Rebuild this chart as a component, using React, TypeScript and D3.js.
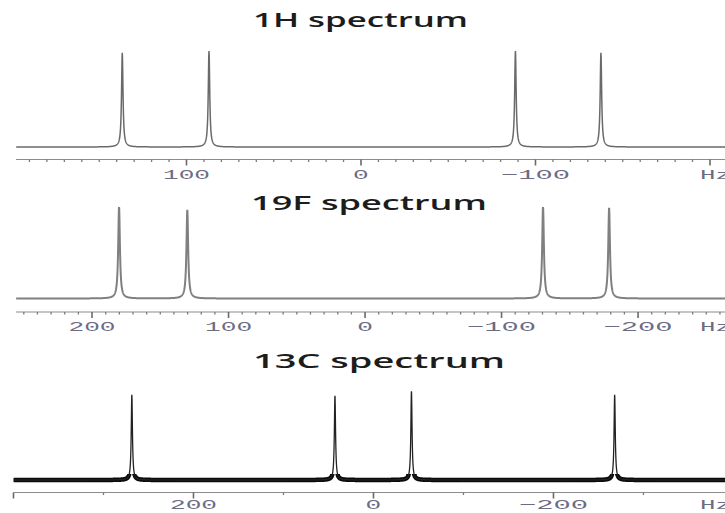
import React from "react";
import * as d3 from "d3";

// ---- Data ----
const H_PEAK_HZ = [136.8, 87.1, -88.5, -137.5];
const H_PEAK_INT = [0.98, 1.0, 1.0, 0.98];
const H_TICKS_MAJOR = [100, 0, -100, -200];
const H_TICK_LABELS = ["100", "0", "\u2212100", ""];

const F_PEAK_HZ = [180.2, 130.2, -130.4, -178.8];
const F_PEAK_INT = [1.0, 0.97, 1.0, 0.99];
const F_TICKS_MAJOR = [200, 100, 0, -100, -200];
const F_TICK_LABELS = ["200", "100", "0", "\u2212100", "\u2212200"];

const C_PEAK_HZ = [268.5, 42.8, -42.2, -268.0];
const C_PEAK_INT = [0.99, 0.98, 1.03, 0.99];
const C_TICKS_MAJOR = [400, 200, 0, -200];
const C_TICK_LABELS = ["", "200", "0", "\u2212200"];

const TITLES = ["1H spectrum", "19F spectrum", "13C spectrum"];
const UNIT = "Hz";

type Panel = {
  title: string;
  titleX: number;
  titleY: number;
  titleLen: number;
  hzLeft: number;
  hzRight: number;
  xLeft: number;
  baseY: number;
  topY: number;
  axisY: number;
  labelY: number;
  peaks: number[];
  ints: number[];
  gamma: number;
  majors: number[];
  labels: string[];
  minorStep: number;
  minorFrom: number;
  minorTo: number;
  stroke: string;
  strokeW: number;
  noisy: boolean;
};

const panels: Panel[] = [
  {
    title: TITLES[0], titleX: 253, titleY: 27, titleLen: 215,
    hzLeft: 197.7, hzRight: -208.6, xLeft: 16,
    baseY: 147, topY: 51, axisY: 159.5, labelY: 178.5,
    peaks: H_PEAK_HZ, ints: H_PEAK_INT, gamma: 0.5,
    majors: H_TICKS_MAJOR, labels: H_TICK_LABELS,
    minorStep: 10, minorFrom: 190, minorTo: -200,
    stroke: "#6a6a6a", strokeW: 1.5, noisy: false,
  },
  {
    title: TITLES[1], titleX: 251, titleY: 210, titleLen: 236,
    hzLeft: 255.7, hzRight: -263.7, xLeft: 16,
    baseY: 298.5, topY: 207, axisY: 312, labelY: 331,
    peaks: F_PEAK_HZ, ints: F_PEAK_INT, gamma: 0.75,
    majors: F_TICKS_MAJOR, labels: F_TICK_LABELS,
    minorStep: 10, minorFrom: 250, minorTo: -260,
    stroke: "#808080", strokeW: 2, noisy: false,
  },
  {
    title: TITLES[2], titleX: 253, titleY: 368, titleLen: 252,
    hzLeft: 400, hzRight: -390.6, xLeft: 13.5,
    baseY: 480, topY: 394, axisY: 492.5, labelY: 509,
    peaks: C_PEAK_HZ, ints: C_PEAK_INT, gamma: 0.8,
    majors: C_TICKS_MAJOR, labels: C_TICK_LABELS,
    minorStep: 100, minorFrom: 300, minorTo: -300,
    stroke: "#222", strokeW: 1.3, noisy: true,
  },
];

const W = 725;
const H = 513;

function labelWidth(s: string) {
  let w = 0;
  for (const ch of s) w += ch === "\u2212" ? 22 : 15.7;
  return w;
}

function PanelView({ p, idx }: { p: Panel; idx: number }) {
  const x = d3.scaleLinear().domain([p.hzLeft, p.hzRight]).range([p.xLeft, W]);
  const y = d3.scaleLinear().domain([0, 1]).range([p.baseY, p.topY]);

  const samples = d3
    .range(p.hzRight, p.hzLeft, 0.1)
    .concat(p.peaks)
    .sort((a, b) => b - a);
  const pts: [number, number][] = samples.map((hz) => {
    let v = 0;
    p.peaks.forEach((c, i) => {
      const t = (hz - c) / p.gamma;
      v += p.ints[i] / (1 + t * t);
    });
    return [hz, v];
  });
  const line = d3
    .line<[number, number]>()
    .x((d) => x(d[0]))
    .y((d) => y(d[1]));
  const path = line(pts) || "";

  const minors = d3.range(p.minorFrom, p.minorTo - 0.001, -p.minorStep);
  const clipId = `clip-noise-${idx}`;

  return (
    <g>
      <text
        x={p.titleX}
        y={p.titleY}
        textLength={p.titleLen}
        lengthAdjust="spacingAndGlyphs"
        fontFamily="'Open Sans', 'Noto Sans', sans-serif"
        fontSize={20}
        fontWeight={600}
        fill="#1c1c1c"
      >
        {p.title}
      </text>

      {p.noisy && (
        <>
          <defs>
            <clipPath id={clipId}>
              <rect x={0} y={p.baseY - 6} width={W} height={12} />
            </clipPath>
          </defs>
          <path
            d={path}
            fill="none"
            stroke="#0a0a0a"
            strokeWidth={4.5}
            strokeLinejoin="round"
            clipPath={`url(#${clipId})`}
          />
        </>
      )}
      <path d={path} fill="none" stroke={p.stroke} strokeWidth={p.strokeW} />

      <line
        x1={p.xLeft}
        x2={W}
        y1={p.axisY}
        y2={p.axisY}
        stroke="#8c8c8c"
        strokeWidth={1.2}
      />
      {minors
        .filter((v) => !p.majors.includes(v))
        .map((v) => (
          <line
            key={`m${v}`}
            x1={x(v)}
            x2={x(v)}
            y1={p.axisY}
            y2={p.axisY + 2.5}
            stroke="#7a7a7a"
            strokeWidth={1.3}
          />
        ))}
      {p.majors.map((v, i) => (
        <g key={`M${v}`}>
          <line
            x1={x(v)}
            x2={x(v)}
            y1={p.axisY}
            y2={p.axisY + 6}
            stroke="#6a6a6a"
            strokeWidth={1.6}
          />
          {p.labels[i] && (
            <text
              x={x(v)}
              y={p.labelY}
              textAnchor="middle"
              textLength={labelWidth(p.labels[i])}
              lengthAdjust="spacingAndGlyphs"
              fontFamily="'Liberation Mono', 'DejaVu Sans Mono', monospace"
              fontSize={13}
              fill="#6c6c84"
            >
              {p.labels[i]}
            </text>
          )}
        </g>
      ))}
      <text
        x={700}
        y={p.labelY}
        textLength={31}
        lengthAdjust="spacingAndGlyphs"
        fontFamily="'Liberation Mono', 'DejaVu Sans Mono', monospace"
        fontSize={13}
        fill="#6c6c84"
      >
        {UNIT}
      </text>
    </g>
  );
}

export default function App() {
  return (
    <svg
      width={W}
      height={H}
      viewBox={`0 0 ${W} ${H}`}
      style={{ position: "absolute", left: 0, top: 0, background: "#fff" }}
    >
      <rect width={W} height={H} fill="#fff" />
      {panels.map((p, i) => (
        <PanelView key={i} p={p} idx={i} />
      ))}
    </svg>
  );
}
